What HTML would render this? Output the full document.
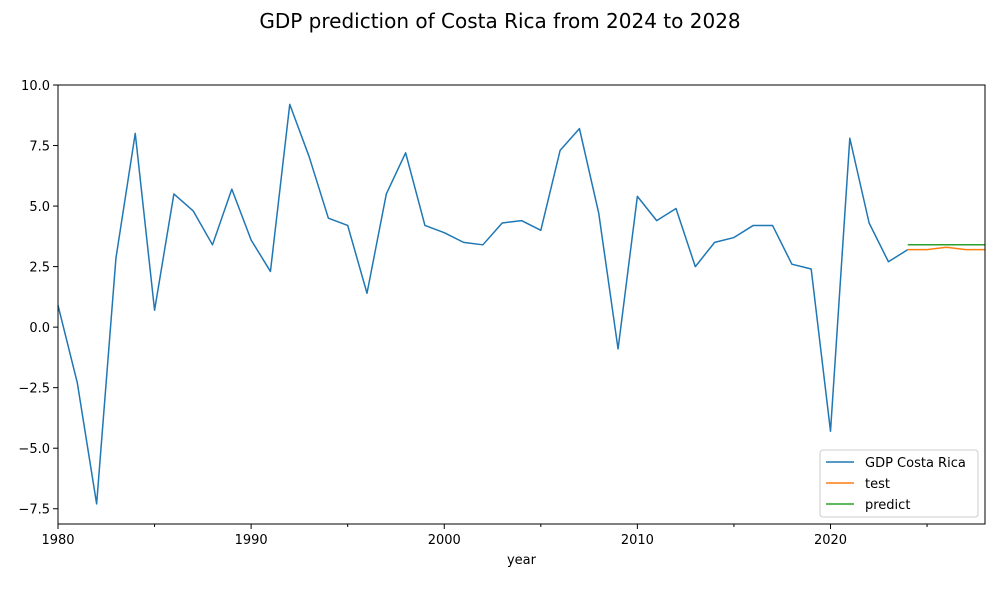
<!DOCTYPE html>
<html><head><meta charset="utf-8">
<style>
body{margin:0;background:#fff;font-family:"Liberation Sans","DejaVu Sans",sans-serif;}
svg text{font-family:"DejaVu Sans","Liberation Sans",sans-serif;}
</style></head>
<body>
<svg id="chart" width="1000" height="600" xmlns="http://www.w3.org/2000/svg">
<text x="500" y="28" text-anchor="middle" font-size="20" fill="#000">GDP prediction of Costa Rica from 2024 to 2028</text>
<g id="plot"></g>
</svg>
<script>
const years = [1980,1981,1982,1983,1984,1985,1986,1987,1988,1989,1990,1991,1992,1993,1994,1995,1996,1997,1998,1999,2000,2001,2002,2003,2004,2005,2006,2007,2008,2009,2010,2011,2012,2013,2014,2015,2016,2017,2018,2019,2020,2021,2022,2023,2024];
const gdp = [0.9,-2.3,-7.3,2.85,8.0,0.7,5.5,4.8,3.4,5.7,3.6,2.3,9.2,7.05,4.5,4.2,1.4,5.5,7.2,4.2,3.9,3.5,3.4,4.3,4.4,4.0,7.3,8.2,4.7,-0.9,5.4,4.4,4.9,2.5,3.5,3.7,4.2,4.2,2.6,2.4,-4.3,7.8,4.3,2.7,3.2];
const predYears = [2024,2025,2026,2027,2028];
const testVals = [3.2,3.2,3.3,3.2,3.2];
const predictVals = [3.4,3.4,3.4,3.4,3.4];
const xTicks = [1980,1990,2000,2010,2020];
const xMinor = [1985,1995,2005,2015,2025];
const yTicks = [-7.5,-5.0,-2.5,0.0,2.5,5.0,7.5,10.0];

const L=58,R=985,T=85,B=524,XMIN=1980,XMAX=2028,YMAX=10,YMIN=-8.13;
const sx=v=>L+(v-XMIN)/(XMAX-XMIN)*(R-L);
const sy=v=>T+(YMAX-v)/(YMAX-YMIN)*(B-T);
const NS="http://www.w3.org/2000/svg";
const g=document.getElementById('plot');
function mk(tag,attrs){const e=document.createElementNS(NS,tag);for(const k in attrs)e.setAttribute(k,attrs[k]);g.appendChild(e);return e;}

// ticks
xTicks.forEach(v=>{
  const t=mk('line',{x1:sx(v),x2:sx(v),y1:B,y2:B+5,stroke:'#000','stroke-width':1});
  
  
  const l=mk('text',{x:sx(v),y:B+20,'text-anchor':'middle','font-size':13});
  l.textContent=v;
  
  
});
xMinor.forEach(v=>{
  const t=mk('line',{x1:sx(v),x2:sx(v),y1:B,y2:B+3,stroke:'#000','stroke-width':1});
  
  
});
yTicks.forEach(v=>{
  const t=mk('line',{x1:L-5,x2:L,y1:sy(v),y2:sy(v),stroke:'#000','stroke-width':1});
  
  
  const l=mk('text',{x:L-8,y:sy(v)+5,'text-anchor':'end','font-size':13});
  l.textContent=(v<0?'\u2212':'')+Math.abs(v).toFixed(1);
  
  
});
const xt=mk('text',{x:(L+R)/2,y:564,'text-anchor':'middle','font-size':13});
xt.textContent='year';



function line(xs,ys,color,name){
  const p=mk('polyline',{points:xs.map((x,i)=>sx(x)+','+sy(ys[i])).join(' '),fill:'none',stroke:color,'stroke-width':1.5,'stroke-linejoin':'round'});
  
  
}
line(years,gdp,'#1f77b4','gdp-line');
line(predYears,testVals,'#ff7f0e','test-line');
line(predYears,predictVals,'#2ca02c','predict-line');

const fr=mk('rect',{x:L,y:T,width:R-L,height:B-T,fill:'none',stroke:'#000','stroke-width':1});



// legend
const lg=mk('rect',{x:820,y:450,width:158,height:67,rx:3,fill:'#fff','fill-opacity':0.8,stroke:'#ccc'});


[['GDP Costa Rica','#1f77b4'],['test','#ff7f0e'],['predict','#2ca02c']].forEach((d,i)=>{
  const y=462+i*21;
  const s=mk('line',{x1:826,x2:854,y1:y,y2:y,stroke:d[1],'stroke-width':1.5});
  
  
  const t=mk('text',{x:865,y:y+5,'font-size':13});
  t.textContent=d[0];
  
  
});
</script>
</body></html>
